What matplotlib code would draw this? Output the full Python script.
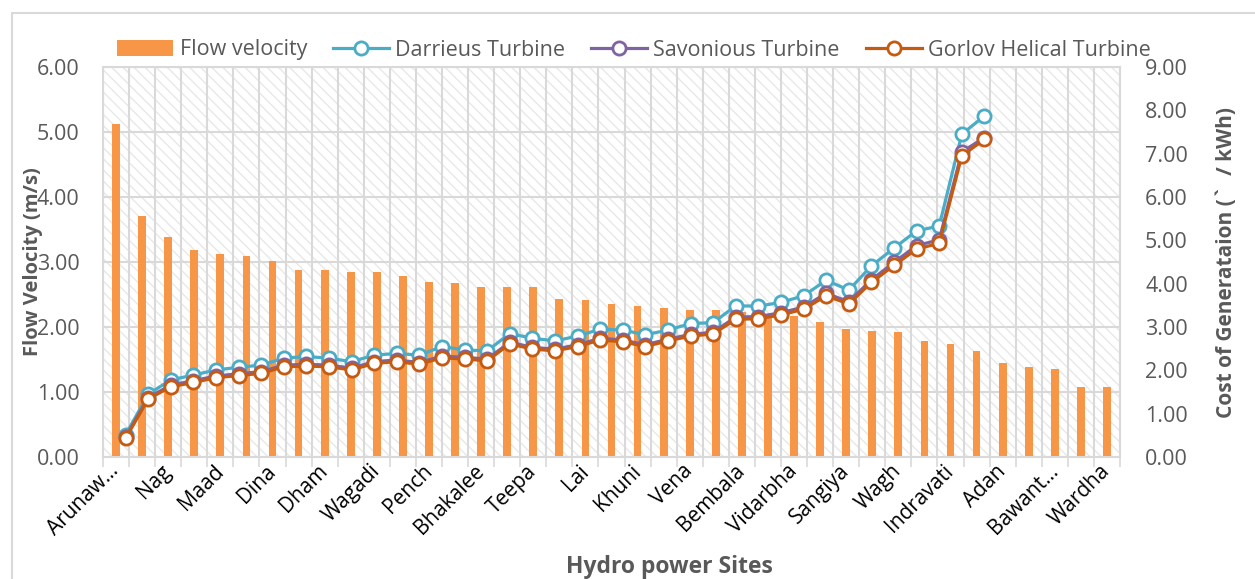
import numpy as np
import matplotlib
matplotlib.use("Agg")
import matplotlib.pyplot as plt
from matplotlib.patches import Rectangle, Patch
from matplotlib.lines import Line2D

plt.rcParams["font.family"] = ["Open Sans", "DejaVu Sans"]
plt.rcParams["hatch.linewidth"] = 1.0

# every second site name is shown on the axis
site_labels = ["Arunaw...", "Nag", "Maad", "Dina", "Dham", "Wagadi", "Pench",
               "Bhakalee", "Teepa", "Lai", "Khuni", "Vena", "Bembala", "Vidarbha",
               "Sangiya", "Wagh", "Indravati", "Adan", "Bawant...", "Wardha"]

flow_velocity = [5.13, 3.71, 3.38, 3.18, 3.12, 3.10, 3.02, 2.88, 2.87, 2.84,
                 2.84, 2.78, 2.69, 2.68, 2.62, 2.62, 2.61, 2.43, 2.42, 2.35,
                 2.33, 2.30, 2.26, 2.26, 2.23, 2.20, 2.17, 2.08, 1.97, 1.94,
                 1.93, 1.78, 1.74, 1.63, 1.44, 1.39, 1.35, 1.08, 1.07]

darrieus = [0.51, 1.45, 1.78, 1.89, 2.01, 2.07, 2.12, 2.28, 2.32, 2.28,
            2.20, 2.35, 2.39, 2.35, 2.55, 2.47, 2.45, 2.85, 2.74, 2.68,
            2.79, 2.95, 2.93, 2.82, 2.93, 3.08, 3.10, 3.49, 3.48, 3.57,
            3.72, 4.08, 3.85, 4.41, 4.82, 5.22, 5.33, 7.45, 7.87]

savonious = [0.46, 1.37, 1.66, 1.76, 1.87, 1.92, 1.97, 2.12, 2.14, 2.12,
             2.05, 2.20, 2.24, 2.18, 2.33, 2.30, 2.26, 2.65, 2.53, 2.49,
             2.59, 2.74, 2.70, 2.59, 2.72, 2.83, 2.88, 3.23, 3.24, 3.33,
             3.46, 3.78, 3.58, 4.09, 4.49, 4.88, 5.01, 7.04, 7.37]

gorlov = [0.43, 1.34, 1.62, 1.72, 1.83, 1.88, 1.93, 2.08, 2.10, 2.08,
          2.01, 2.16, 2.20, 2.14, 2.29, 2.26, 2.22, 2.61, 2.49, 2.45,
          2.55, 2.70, 2.66, 2.55, 2.68, 2.79, 2.84, 3.18, 3.19, 3.28,
          3.41, 3.72, 3.53, 4.03, 4.42, 4.80, 4.93, 6.95, 7.33]

BAR = "#f79646"
TEAL = "#4bacc6"
PURPLE = "#8064a2"
BROWN = "#c55a11"
GRID = "#d9d9d9"
TXT = "#595959"
FS = 15.5

W, H = 1255, 579
fig = plt.figure(figsize=(W / 100, H / 100), dpi=100)
pos = [103 / W, 1 - 457 / H, (1120 - 103) / W, (457 - 67) / H]
ax = fig.add_axes(pos)

n = len(flow_velocity)
x = np.arange(n)

# hatched plot area
ax.add_patch(Rectangle((0, 0), 1, 1, transform=ax.transAxes, facecolor="white",
                       edgecolor="#e8e8e8", hatch="\\\\\\", linewidth=0, zorder=0))
ax.set_axisbelow(True)
ax.bar(x, flow_velocity, width=0.3, color=BAR, zorder=2)

ax.set_xlim(-0.5, n - 0.5)
ax.set_ylim(0, 6)
ax.set_yticks(np.arange(0, 7, 1))
ax.set_yticklabels([f"{v:.2f}" for v in range(7)])
ax.set_xticks(np.arange(-0.5, n, 1))
ax.set_xticklabels([])
ax.set_xticks(np.arange(0, n, 2), site_labels, minor=True, rotation=45,
              ha="right", va="center", rotation_mode="anchor")
ax.tick_params(axis="x", which="major", length=7, color=GRID, width=1.2)
ax.tick_params(axis="x", which="minor", length=0, pad=8, labelsize=15, labelcolor="black")
ax.tick_params(axis="y", length=0, pad=17, labelsize=FS, labelcolor=TXT)
ax.grid(True, which="major", color=GRID, linewidth=1.5)
for s in ax.spines.values():
    s.set_color(GRID)
    s.set_linewidth(1.5)

fig.text(33 / W, 1 - 262 / H, "Flow Velocity (m/s)", rotation=90, ha="center", va="center",
         fontsize=14.5, fontweight="bold", color=TXT)

# secondary axes for the cost lines
ax2 = fig.add_axes(pos, facecolor="none")
ax2.set_xlim(0, 45)
ax2.set_ylim(0, 9)
k = np.arange(1, n + 1)
mk = dict(marker="o", markersize=9.5, markerfacecolor="white", markeredgewidth=2.0, linewidth=2.3)
ax2.plot(k, darrieus, color=TEAL, markeredgecolor=TEAL, **mk)
ax2.plot(k, savonious, color=PURPLE, markeredgecolor=PURPLE, **mk)
ax2.plot(k, gorlov, color=BROWN, markeredgecolor=BROWN, **mk)
ax2.set_xticks([])
ax2.yaxis.tick_right()
ax2.set_yticks(np.arange(0, 10, 1))
ax2.set_yticklabels([f"{v:.2f}" for v in range(10)])
ax2.tick_params(axis="y", length=0, pad=18, labelsize=FS, labelcolor=TXT)
for s in ax2.spines.values():
    s.set_visible(False)

fig.text(1227 / W, 1 - 262 / H, "Cost of Generataion (`  / kWh)", rotation=90,
         ha="center", va="center", fontsize=15, fontweight="bold", color=TXT)
fig.text(669 / W, 1 - 567 / H, "Hydro power Sites", ha="center", va="center",
         fontsize=16.5, fontweight="bold", color=TXT)

handles = [
    Patch(facecolor=BAR),
    Line2D([], [], color=TEAL, markeredgecolor=TEAL, **mk),
    Line2D([], [], color=PURPLE, markeredgecolor=PURPLE, **mk),
    Line2D([], [], color=BROWN, markeredgecolor=BROWN, **mk),
]
names = ["Flow velocity", "Darrieus Turbine", "Savonious Turbine", "Gorlov Helical Turbine"]
leg = fig.legend(handles, names, loc="center", bbox_to_anchor=(634 / W, 1 - 50 / H),
                 ncol=4, frameon=False, fontsize=FS, handlelength=2.6,
                 handletextpad=0.3, columnspacing=1.2, labelcolor=TXT)

# outer chart border
fig.patches.append(Rectangle((12 / W, -0.1), 1.2, 1.1 - 13 / H, transform=fig.transFigure,
                             fill=False, edgecolor=GRID, linewidth=1.5))

fig.savefig("out.png", dpi=100)
